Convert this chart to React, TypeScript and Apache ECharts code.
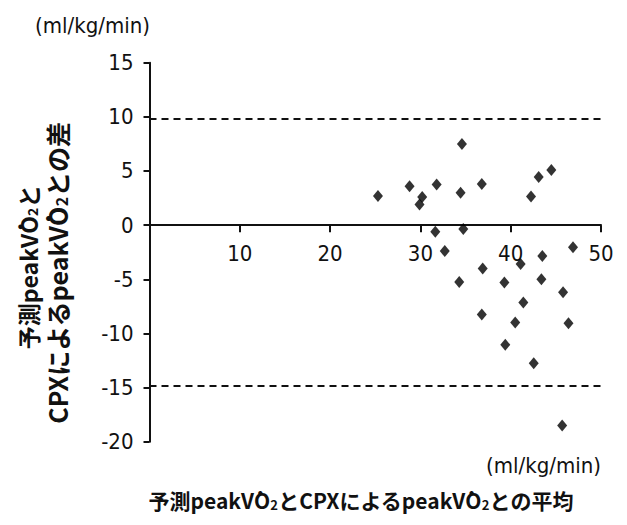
import React, { useEffect, useRef } from "react";
import * as echarts from "echarts";

const meanValues = [25.3, 28.8, 29.9, 30.2, 31.8, 31.65, 32.7, 34.6, 34.45, 34.75, 34.3, 36.8, 36.9, 36.8, 39.3, 39.4, 40.5, 41.1, 41.4, 42.25, 42.55, 43.1, 43.5, 43.4, 44.5, 45.8, 45.7, 46.4, 46.9];
const diffValues = [2.7, 3.6, 1.9, 2.6, 3.75, -0.6, -2.4, 7.5, 3.0, -0.35, -5.25, 3.8, -4.0, -8.25, -5.3, -11.05, -9.0, -3.6, -7.15, 2.65, -12.75, 4.45, -2.85, -5.0, 5.1, -6.2, -18.5, -9.05, -2.05];
const limitValues = [9.8, -14.8];
const xTicks = { min: 0, max: 50, interval: 10 };
const yTicks = { min: -20, max: 15, interval: 5 };
const unitLabel = "(ml/kg/min)";
const yTitleLine1 = "予測peakV\u0307O{s|2}と";
const yTitleLine2 = "CPXによるpeakV\u0307O{s|2}との差";
const xTitle = "予測peakV\u0307O{s|2}とCPXによるpeakV\u0307O{s|2}との平均";

const narrow = '"Liberation Sans Narrow", "DejaVu Sans Condensed", "Liberation Sans", sans-serif';
const cjk = '"Noto Sans CJK JP", "Noto Sans", sans-serif';

const GRID = { left: 149.5, top: 62.7, right: 26, bottom: 83.3 };

export default function App() {
  const ref = useRef<HTMLDivElement>(null);
  useEffect(() => {
    if (!ref.current) return;
    const chart = echarts.init(ref.current, null, { renderer: "svg" });
    const points = meanValues.map((x, i) => [x, diffValues[i]]);
    const gridHeight = 525 - GRID.top - GRID.bottom;
    const zeroFromBottom = (gridHeight * (0 - yTicks.min)) / (yTicks.max - yTicks.min);
    const titleStyle = (text: string, size: number) => ({
      text,
      fontFamily: cjk,
      fontWeight: "bold",
      fontSize: size,
      fill: "#111",
      align: "center",
      verticalAlign: "middle",
      rich: {
        s: { fontSize: Math.round(size * 0.62), fontWeight: "bold", fontFamily: cjk, padding: [8, 0, 0, 0], fill: "#111" },
      },
    });
    chart.setOption({
      animation: false,
      backgroundColor: "#fff",
      grid: GRID,
      xAxis: {
        type: "value",
        min: xTicks.min,
        max: xTicks.max,
        interval: xTicks.interval,
        offset: -zeroFromBottom,
        axisLine: { show: true, onZero: false, lineStyle: { color: "#111", width: 2 } },
        axisTick: { show: true, length: 7, lineStyle: { color: "#111", width: 2 } },
        axisLabel: { showMinLabel: false, fontSize: 22, fontFamily: narrow, color: "#111", margin: 17 },
        splitLine: { show: false },
      },
      yAxis: {
        type: "value",
        min: yTicks.min,
        max: yTicks.max,
        interval: yTicks.interval,
        axisLine: { show: true, onZero: false, lineStyle: { color: "#111", width: 2 } },
        axisTick: { show: true, length: 6, lineStyle: { color: "#111", width: 2 } },
        axisLabel: { fontSize: 22, fontFamily: narrow, color: "#111", margin: 16 },
        splitLine: { show: false },
      },
      series: [
        {
          type: "scatter",
          data: points,
          symbol: "diamond",
          symbolSize: [10, 12],
          itemStyle: { color: "#000" },
          markLine: {
            silent: true,
            symbol: "none",
            label: { show: false },
            lineStyle: { color: "#111", width: 2, type: [7, 5] },
            data: limitValues.map((v) => ({ yAxis: v })),
          },
        },
      ],
      graphic: [
        {
          type: "text",
          left: 35,
          top: 14,
          style: { text: unitLabel, fontFamily: narrow, fontSize: 22, fill: "#111" },
        },
        {
          type: "text",
          right: 26,
          top: 454,
          style: { text: unitLabel, fontFamily: narrow, fontSize: 22, fill: "#111" },
        },
        {
          type: "text",
          x: 361,
          y: 500,
          style: titleStyle(xTitle, 21),
        },
        {
          type: "text",
          x: 28,
          y: 267,
          rotation: Math.PI / 2,
          style: titleStyle(yTitleLine1, 23),
        },
        {
          type: "text",
          x: 57,
          y: 273,
          rotation: Math.PI / 2,
          style: titleStyle(yTitleLine2, 25),
        },
      ],
    });
    return () => chart.dispose();
  }, []);
  return (
    <div
      ref={ref}
      style={{ position: "fixed", left: 0, top: 0, width: 627, height: 525, background: "#fff" }}
    />
  );
}
